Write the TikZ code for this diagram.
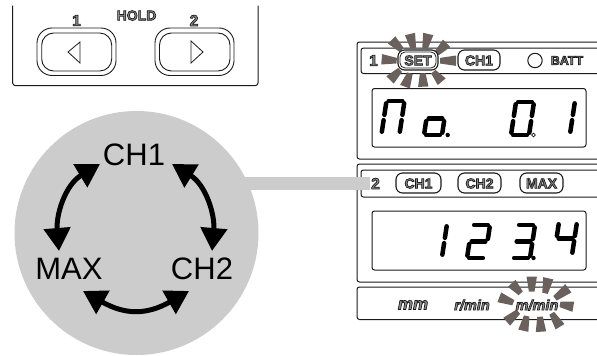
\documentclass[tikz,border=0pt]{standalone}
\usepackage{fontspec}
\setmainfont{Liberation Sans}
\usetikzlibrary{arrows.meta,calc}
\definecolor{burst}{HTML}{6B615C}
\definecolor{disc}{HTML}{CCCCCC}
\definecolor{ink}{HTML}{1A1A1A}
\newcommand\hollow[1]{\special{pdf:code q 2 Tr 0.7 w 0.55 g}#1\special{pdf:code Q}}
\newcommand\segA{\draw[segm] (.12,1)--(.88,1);}
\newcommand\segB{\draw[segm] (1,.93)--(1,.58);}
\newcommand\segC{\draw[segm] (1,.42)--(1,.07);}
\newcommand\segD{\draw[segm] (.88,0)--(.12,0);}
\newcommand\segE{\draw[segm] (0,.07)--(0,.42);}
\newcommand\segF{\draw[segm] (0,.58)--(0,.93);}
\newcommand\segG{\draw[segm] (.12,.5)--(.88,.5);}
\newcommand\digit[3]{\begin{scope}[shift={(#1,#2)},x={(18pt,0pt)},y={(5pt,33pt)}]#3\end{scope}}
\newcommand\ray[4]{\fill[burst] ($(#3,#4)!2.8pt!90:(#1,#2)$) -- ($(#3,#4)!2.8pt!-90:(#1,#2)$) -- ($(#1,#2)!5.2pt!90:(#3,#4)$) -- ($(#1,#2)!5.2pt!-90:(#3,#4)$) -- cycle;}
\tikzset{
  x=1pt,y=-1pt,
  frameline/.style={draw=ink,line width=1pt,rounded corners=2.5pt},
  segm/.style={line width=4.5pt,line cap=round,black},
  keybtn/.style={draw=ink,line width=.9pt,rounded corners=15pt},
  tri/.style={draw=ink,line width=.8pt,line join=miter},
  pill/.style={draw=ink,line width=1.1pt,rounded corners=6.5pt,fill=white},
  tag/.style={inner sep=0pt,text=ink,font=\fontsize{14}{14}\selectfont\bfseries},
  smalltag/.style={inner sep=0pt,text=ink,font=\fontsize{12.5}{12.5}\selectfont\bfseries},
  numtag/.style={inner sep=0pt,text=ink,font=\fontsize{15.5}{15.5}\selectfont\bfseries},
  unittag/.style={inner sep=0pt,text=ink,font=\fontsize{14.5}{14.5}\selectfont\bfseries\itshape},
  big/.style={inner sep=0pt,text=black,font=\fontsize{31}{31}\selectfont},
  cyc/.style={line width=5pt,black,{Triangle[length=23pt,width=26pt]}-{Triangle[length=23pt,width=26pt]}},
}
\begin{document}
\begin{tikzpicture}
\useasboundingbox (0,0) rectangle (597,356);
% top key box
\draw[frameline] (12.7,5.5) -- (12.7,85.5) -- (258,85.5) -- (258,5.5);
\draw[keybtn] (37,28) rectangle (116,75.5);
\draw[keybtn,rounded corners=12pt] (41.7,33) rectangle (111.7,71);
\draw[keybtn] (155,28) rectangle (234,75.5);
\draw[keybtn,rounded corners=12pt] (159.5,33) rectangle (230,71);
\draw[tri] (80,42) -- (68,52) -- (80,63) -- cycle;
\draw[tri] (191,41) -- (203,52) -- (191,63) -- cycle;
\node[numtag] (k1) at (76.5,20.5) {\hollow{1}};
\node[numtag] (k2) at (194,20.5) {\hollow{2}};
\node[tag] (hold) at (136.5,15.5) {\hollow{HOLD}};
% panels
\draw[frameline] (597,42) -- (357,42) -- (357,159) -- (597,159);
\draw[frameline] (597,164) -- (357,164) -- (357,282) -- (597,282);
\draw[frameline] (597,287) -- (357,287) -- (357,319.5) -- (597,319.5);
\draw[frameline] (597,48) -- (361,48) -- (361,73.5) -- (597,73.5);
\draw[frameline] (597,170) -- (361,170) -- (361,197) -- (597,197);
\draw[frameline] (372,88.5) rectangle (586,147);
\draw[frameline] (372,211) rectangle (586,270);
% bursts
\ray{381.7}{59.3}{396.7}{60.7}
\ray{391.7}{40}{401.7}{50}
\ray{410}{34}{413.3}{48.3}
\ray{428.3}{34}{425}{48.3}
\ray{446.7}{43.3}{436.7}{53.3}
\ray{456}{60.7}{440}{60.7}
\ray{441.7}{81.7}{433.3}{71.7}
\ray{423.3}{86.7}{422.7}{73.3}
\ray{405}{86.7}{410}{73.3}
\ray{390}{80}{400}{70}
\ray{499.3}{297.3}{513.3}{302.7}
\ray{511.7}{283.3}{520.7}{293.3}
\ray{531.7}{276.7}{531.7}{291.7}
\ray{548.3}{278.3}{545}{293.3}
\ray{568.3}{288.3}{555}{298.3}
\ray{573.3}{306.7}{560}{304.3}
\ray{560}{326.7}{551.7}{313.3}
\ray{541}{331.7}{540}{316.7}
\ray{523.3}{330.7}{526.7}{316}
\ray{506.7}{321.7}{518.3}{311.7}
% header row 1
\node[numtag] (n1) at (373.5,60.5) {\hollow{1}};
\draw[pill] (398,50) rectangle (438,70);
\draw[pill,fill=none,line width=.8pt,rounded corners=5pt] (400,52) rectangle (436,68);
\node[tag] (set) at (418,60.5) {\hollow{SET}};
\draw[pill] (458,50) rectangle (500,70);
\node[tag] (ch1a) at (479,60.5) {\hollow{CH1}};
\draw[ink,line width=1pt] (535,60.5) circle (7.2);
\node[smalltag] (batt) at (567,60.5) {\hollow{BATT}};
% header row 2
\draw[pill] (396,173) rectangle (441,193);
\node[tag] (ch1b) at (418.5,183.5) {\hollow{CH1}};
\draw[pill] (458,173) rectangle (501,193);
\node[tag] (ch2b) at (479.5,183.5) {\hollow{CH2}};
\draw[pill] (520,173) rectangle (563,193);
\node[tag] (maxb) at (541.5,183.5) {\hollow{MAX}};
\node[numtag] (n2) at (375.5,183.5) {\hollow{2}};
% digits
\digit{381.5}{134}{\segA\segB\segC\segE\segF}
\digit{424}{135}{\segC\segD\segE\segG}
\fill (447.7,135) circle (2.2);
\digit{511}{135}{\segA\segB\segC\segD\segE\segF}
\draw[ink,line width=.7pt] (533.5,135) circle (1.8);
\digit{552}{134}{\segB\segC}
\digit{424}{257}{\segB\segC}
\digit{467}{258}{\segA\segB\segG\segE\segD}
\digit{512}{258}{\segA\segB\segG\segC\segD}
\fill (533.5,258) circle (2.2);
\digit{554}{255}{\segF\segG\segB\segC}
% units
\node[unittag,font=\fontsize{17}{17}\selectfont\bfseries\itshape] (umm) at (413,305) {\hollow{mm}};
\node[unittag] (urm) at (472,305) {\hollow{r/min}};
\node[unittag] (umm2) at (537,305) {\hollow{m/min}};
% disc and bar
\node[circle,fill=disc,inner sep=0pt,minimum size=244pt] (disc) at (136.5,233) {};
\draw[disc,line width=13pt] (disc.center |- n2) -- (370,183.5);
\node[big] (ch1) at (134,155) {CH1};
\node[big] (max) at (69,269) {MAX};
\node[big] (ch2) at (202,269) {CH2};
\coordinate (p1) at (100,164);
\coordinate (p2) at (59,251);
\coordinate (p3) at (172,164);
\coordinate (p4) at (212,251);
\coordinate (p5) at (83,291);
\coordinate (p6) at (189,291);
\draw[cyc] (p1) .. controls (65,185) and (56,215) .. (p2);
\draw[cyc] (p3) .. controls (206,185) and (215,215) .. (p4);
\draw[cyc] (p5) .. controls (125,315) and (147,315) .. (p6);
\end{tikzpicture}
\end{document}
